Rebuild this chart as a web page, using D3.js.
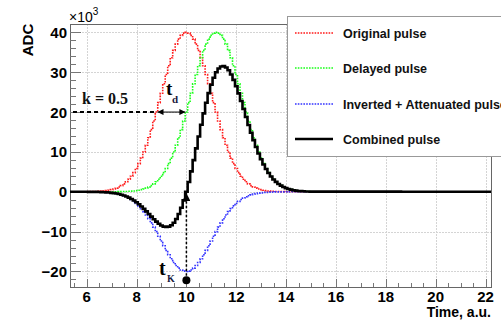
<!DOCTYPE html>
<html>
<head>
<meta charset="utf-8">
<script src="https://cdn.jsdelivr.net/npm/d3@7"></script>
<style>
  body { margin: 0; background: #fff; }
  svg { display: block; }
</style>
</head>
<body>
<svg id="chart" width="501" height="321"></svg>
<script>
// bins of 0.1 a.u., centres from 6.0 to 15.0, values in units of 10^3 ADC
const binStart = 6.0;
const binWidth = 0.1;

const originalPulse = [
  0.02, 0.03, 0.04, 0.06, 0.08, 0.11, 0.15, 0.21, 0.29, 0.39,
  0.53, 0.70, 0.92, 1.20, 1.55, 1.98, 2.51, 3.15, 3.91, 4.80,
  5.85, 7.06, 8.43, 9.97, 11.69, 13.57, 15.60, 17.76, 20.02, 22.36,
  24.74, 27.10, 29.41, 31.61, 33.64, 35.47, 37.04, 38.31, 39.24, 39.81,
  40.00,
  39.81, 39.24, 38.31, 37.04, 35.47, 33.64, 31.61, 29.41, 27.10,
  24.74, 22.36, 20.02, 17.76, 15.60, 13.57, 11.69, 9.97, 8.43, 7.06,
  5.85, 4.80, 3.91, 3.15, 2.51, 1.98, 1.55, 1.20, 0.92, 0.70,
  0.53, 0.39, 0.29, 0.21, 0.15, 0.11, 0.08, 0.06, 0.04, 0.03,
  0.02, 0, 0, 0, 0, 0, 0, 0, 0, 0, 0
];

const delayedPulse = [
  0, 0, 0, 0, 0, 0, 0, 0, 0, 0, 0, 0,
  0.02, 0.03, 0.04, 0.06, 0.08, 0.11, 0.15, 0.21, 0.29, 0.39,
  0.53, 0.70, 0.92, 1.20, 1.55, 1.98, 2.51, 3.15, 3.91, 4.80,
  5.85, 7.06, 8.43, 9.97, 11.69, 13.57, 15.60, 17.76, 20.02, 22.36,
  24.74, 27.10, 29.41, 31.61, 33.64, 35.47, 37.04, 38.31, 39.24, 39.81,
  40.00,
  39.81, 39.24, 38.31, 37.04, 35.47, 33.64, 31.61, 29.41, 27.10,
  24.74, 22.36, 20.02, 17.76, 15.60, 13.57, 11.69, 9.97, 8.43, 7.06,
  5.85, 4.80, 3.91, 3.15, 2.51, 1.98, 1.55, 1.20, 0.92, 0.70,
  0.53, 0.39, 0.29, 0.21, 0.15, 0.11, 0.08, 0.06, 0.04
];

const invertedPulse = [
  -0.01, -0.02, -0.02, -0.03, -0.04, -0.06, -0.08, -0.11, -0.15, -0.20,
  -0.27, -0.35, -0.46, -0.60, -0.78, -0.99, -1.26, -1.58, -1.96, -2.40,
  -2.93, -3.53, -4.22, -4.99, -5.85, -6.79, -7.80, -8.88, -10.01, -11.18,
  -12.37, -13.55, -14.71, -15.81, -16.82, -17.74, -18.52, -19.16, -19.62, -19.91,
  -20.00,
  -19.91, -19.62, -19.16, -18.52, -17.74, -16.82, -15.81, -14.71, -13.55,
  -12.37, -11.18, -10.01, -8.88, -7.80, -6.79, -5.85, -4.99, -4.22, -3.53,
  -2.93, -2.40, -1.96, -1.58, -1.26, -0.99, -0.78, -0.60, -0.46, -0.35,
  -0.27, -0.20, -0.15, -0.11, -0.08, -0.06, -0.04, -0.03, -0.02, -0.02,
  -0.01, 0, 0, 0, 0, 0, 0, 0, 0, 0, 0
];

const combinedPulse = [
  -0.01, -0.02, -0.02, -0.03, -0.04, -0.06, -0.08, -0.11, -0.15, -0.20,
  -0.27, -0.35, -0.44, -0.57, -0.74, -0.93, -1.18, -1.47, -1.81, -2.19,
  -2.64, -3.14, -3.69, -4.29, -4.93, -5.59, -6.25, -6.90, -7.50, -8.03,
  -8.46, -8.75, -8.86, -8.75, -8.39, -7.77, -6.83, -5.59, -4.02, -2.15,
  0.02,
  2.45, 5.12, 7.94, 10.89, 13.87, 16.82, 19.66, 22.33, 24.76,
  26.87, 28.63, 29.99, 30.93, 31.44, 31.52, 31.19, 30.48, 29.42, 28.08,
  26.48, 24.70, 22.78, 20.78, 18.76, 16.77, 14.82, 12.97, 11.23, 9.62,
  8.16, 6.86, 5.70, 4.69, 3.83, 3.09, 2.47, 1.95, 1.53, 1.18,
  0.91, 0.70, 0.53, 0.39, 0.29, 0.21, 0.15, 0.11, 0.08, 0.06, 0.04
];

const xTicks = [6, 8, 10, 12, 14, 16, 18, 20, 22];
const yTicks = [-20, -10, 0, 10, 20, 30, 40];
const legendLabels = ["Original pulse", "Delayed pulse", "Inverted + Attenuated pulse", "Combined pulse"];

// annotation values
const kLevel = 20;          // 0.5 * amplitude
const tdCross = [8.8, 10.0]; // original / delayed crossing of k level
const tK = 10.0;
const tKmarker = -22.2;

const svg = d3.select("#chart");
const pLeft = 70, pRight = 491, pTop = 24, pBottom = 287;

const x = d3.scaleLinear().domain([5.33, 22.22]).range([pLeft, pRight]);
const y = d3.scaleLinear().domain([-23.9, 42.1]).range([pBottom, pTop]);

const series = [originalPulse, delayedPulse, invertedPulse, combinedPulse];
const colors = ["#ff1a1a", "#1aff1a", "#3333ff", "#000"];

// grid
const grid = svg.append("g").attr("stroke", "#d4d4d4").attr("stroke-width", 1).attr("stroke-dasharray", "2,1");
grid.selectAll(".gx").data(xTicks).enter().append("line")
    .attr("x1", d => Math.round(x(d)) + 0.5).attr("x2", d => Math.round(x(d)) + 0.5)
    .attr("y1", pTop).attr("y2", pBottom);
grid.selectAll(".gy").data(yTicks).enter().append("line")
    .attr("y1", d => Math.round(y(d)) + 0.5).attr("y2", d => Math.round(y(d)) + 0.5)
    .attr("x1", pLeft).attr("x2", pRight);

// frame
svg.append("rect")
   .attr("x", pLeft + 0.5).attr("y", pTop + 0.5)
   .attr("width", pRight - pLeft).attr("height", pBottom - pTop)
   .attr("fill", "none").attr("stroke", "#666");

// ticks (inside, ROOT style)
const yMinor = d3.range(-22, 42, 2);
svg.append("g").selectAll("line").data(yMinor).enter().append("line")
   .attr("x1", pLeft).attr("x2", d => pLeft + (d % 10 === 0 ? 11 : 6))
   .attr("y1", d => Math.round(y(d)) + 0.5).attr("y2", d => Math.round(y(d)) + 0.5)
   .attr("stroke", "#777");
const xMinor = d3.range(5.5, 22.3, 0.5);
svg.append("g").selectAll("line").data(xMinor).enter().append("line")
   .attr("y1", pBottom).attr("y2", d => pBottom - (Math.abs(d % 2) < 1e-6 ? 8 : 4))
   .attr("x1", d => Math.round(x(d)) + 0.5).attr("x2", d => Math.round(x(d)) + 0.5)
   .attr("stroke", "#777");

// tick labels
const labelFont = "'Liberation Sans', Arial, sans-serif";
svg.append("g").selectAll("text").data(yTicks).enter().append("text")
   .attr("x", pLeft - 3).attr("y", d => y(d) + 5.5)
   .attr("text-anchor", "end")
   .attr("font-family", labelFont).attr("font-weight", "bold").attr("font-size", 15)
   .text(d => d < 0 ? "\u2212" + Math.abs(d) : d);
svg.append("g").selectAll("text").data(xTicks).enter().append("text")
   .attr("x", d => x(d)).attr("y", 302)
   .attr("text-anchor", "middle")
   .attr("font-family", labelFont).attr("font-weight", "bold").attr("font-size", 15)
   .text(d => d);

svg.append("text").attr("x", pRight).attr("y", 317).attr("text-anchor", "end")
   .attr("font-family", labelFont).attr("font-weight", "bold").attr("font-size", 14)
   .text("Time, a.u.");
svg.append("text").attr("transform", "translate(33,40) rotate(-90)")
   .attr("text-anchor", "middle")
   .attr("font-family", labelFont).attr("font-weight", "bold").attr("font-size", 15)
   .text("ADC");
const exp = svg.append("text").attr("x", 69).attr("y", 22)
   .attr("font-family", labelFont).attr("font-size", 14).text("\u00d710");
exp.append("tspan").attr("dy", -7).attr("font-size", 10).text("3");

// curves
const line = d3.line()
    .x(d => x(d[0])).y(d => y(d[1]))
    .curve(d3.curveStep);
const toPoints = arr => arr.map((v, i) => [binStart + i * binWidth, v]);

series.forEach((arr, k) => {
  let pts = toPoints(arr);
  if (k === 3) pts = [[x.domain()[0], 0], ...pts, [x.domain()[1], 0]];
  svg.append("path")
     .attr("d", line(pts))
     .attr("fill", "none")
     .attr("stroke", colors[k])
     .attr("stroke-width", k === 3 ? 2.6 : 1.6)
     .attr("stroke-dasharray", k === 3 ? null : "1.6,1.2");
});

// arrow markers
const defs = svg.append("defs");
defs.append("marker").attr("id", "ah").attr("markerUnits", "userSpaceOnUse")
    .attr("viewBox", "0 0 10 10").attr("refX", 10).attr("refY", 5)
    .attr("markerWidth", 7).attr("markerHeight", 6).attr("orient", "auto-start-reverse")
    .append("path").attr("d", "M0,0L10,5L0,10Z").attr("fill", "#000");
defs.append("marker").attr("id", "ahBig").attr("markerUnits", "userSpaceOnUse")
    .attr("viewBox", "0 0 10 10").attr("refX", 10).attr("refY", 5)
    .attr("markerWidth", 9).attr("markerHeight", 8).attr("orient", "auto")
    .append("path").attr("d", "M0,0L10,5L0,10Z").attr("fill", "#000");

// k level dashed line
svg.append("line")
   .attr("x1", x(5.45)).attr("x2", x(tdCross[0]))
   .attr("y1", y(kLevel)).attr("y2", y(kLevel))
   .attr("stroke", "#000").attr("stroke-width", 2).attr("stroke-dasharray", "4,3");
svg.append("line")
   .attr("x1", x(tdCross[0]) + 1).attr("x2", x(tdCross[1]) - 1)
   .attr("y1", y(kLevel)).attr("y2", y(kLevel))
   .attr("stroke", "#000").attr("stroke-width", 1)
   .attr("marker-start", "url(#ah)").attr("marker-end", "url(#ah)");

const serif = "'Liberation Serif', 'Times New Roman', serif";
svg.append("text").attr("x", 82).attr("y", 104)
   .attr("font-family", serif).attr("font-weight", "bold").attr("font-size", 16)
   .attr("fill", "#111").text("k = 0.5");
svg.append("text").attr("x", 166).attr("y", 95)
   .attr("font-family", serif).attr("font-weight", "bold").attr("font-size", 19).text("t");
svg.append("text").attr("x", 172).attr("y", 103)
   .attr("font-family", serif).attr("font-weight", "bold").attr("font-size", 11)
   .attr("fill", "#1a1a40").text("d");

// tK arrow and marker
svg.append("line")
   .attr("x1", x(tK)).attr("x2", x(tK))
   .attr("y1", y(tKmarker)).attr("y2", y(-0.3))
   .attr("stroke", "#000").attr("stroke-width", 1.5).attr("stroke-dasharray", "2.5,2")
   .attr("marker-end", "url(#ahBig)");
svg.append("circle").attr("cx", x(tK)).attr("cy", y(tKmarker)).attr("r", 4).attr("fill", "#000");
svg.append("text").attr("x", 159).attr("y", 275)
   .attr("font-family", serif).attr("font-weight", "bold").attr("font-size", 20).text("t");
svg.append("text").attr("x", 167).attr("y", 282)
   .attr("font-family", serif).attr("font-weight", "bold").attr("font-size", 10)
   .attr("fill", "#1a1a40").text("K");

// legend
const lg = svg.append("g");
lg.append("rect").attr("x", 287.5).attr("y", 16.5).attr("width", 240).attr("height", 140)
  .attr("fill", "#fff").attr("stroke", "#999");
const rowY = [33, 68, 104, 139];
legendLabels.forEach((label, k) => {
  lg.append("line").attr("x1", 295).attr("x2", 333).attr("y1", rowY[k]).attr("y2", rowY[k])
    .attr("stroke", colors[k])
    .attr("stroke-width", k === 3 ? 2.6 : 1.6)
    .attr("stroke-dasharray", k === 3 ? null : "1.6,1.2");
  lg.append("text").attr("x", 343).attr("y", rowY[k] + 4.5)
    .attr("font-family", labelFont).attr("font-weight", "bold").attr("font-size", 12.5)
    .attr("fill", "#111").text(label);
});
</script>
</body>
</html>
